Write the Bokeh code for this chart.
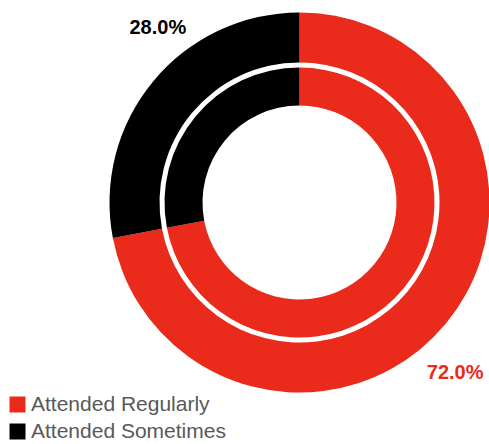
import numpy as np
from bokeh.plotting import figure
from bokeh.models import ColumnDataSource, Legend, LegendItem
from bokeh.core.properties import value
from bokeh.embed import file_html
from bokeh.resources import INLINE

categories = ["Attended Regularly", "Attended Sometimes"]
outer_values = [72.0, 28.0]
inner_values = [72.0, 28.0]
colors = ["#EA2A1A", "#000000"]
label_colors = ["#EA2A1A", "#000000"]

W, H = 489, 444
cx, cy = 299, H - 202

def wedges(vals):
    v = np.array(vals, dtype=float)
    frac = v / v.sum()
    ends = np.cumsum(frac)
    starts = ends - frac
    # clockwise from 12 o'clock
    start_angle = np.pi / 2 - ends * 2 * np.pi
    end_angle = np.pi / 2 - starts * 2 * np.pi
    mid = np.pi / 2 - (starts + ends) / 2 * 2 * np.pi
    return start_angle, end_angle, mid, frac

p = figure(width=W, height=H, x_range=(0, W), y_range=(0, H),
           output_backend="svg", toolbar_location=None, min_border=0)
p.axis.visible = False
p.grid.visible = False
p.outline_line_color = None
p.background_fill_color = "white"

so, eo, mo, fo = wedges(outer_values)
si, ei, mi, fi = wedges(inner_values)

src_o = ColumnDataSource(dict(x=[cx]*2, y=[cy]*2, s=so, e=eo, c=colors))
src_i = ColumnDataSource(dict(x=[cx]*2, y=[cy]*2, s=si, e=ei, c=colors))

r_o = p.annular_wedge(x="x", y="y", inner_radius=140, outer_radius=190,
                      start_angle="s", end_angle="e", fill_color="c",
                      line_color=None, source=src_o)
r_i = p.annular_wedge(x="x", y="y", inner_radius=97, outer_radius=135,
                      start_angle="s", end_angle="e", fill_color="c",
                      line_color=None, source=src_i)

# percentage labels placed around the outer ring at the slice mid-angles
lab_r = 215
lx = cx + lab_r * np.cos(mo)
ly = cy + lab_r * np.sin(mo)
labels = ["%.1f%%" % (f * 100) for f in fo]
xoff = [-10, 24]
yoff = [32, -38]
p.text(x=lx, y=ly, text=labels, text_color=label_colors,
       x_offset=xoff, y_offset=yoff,
       text_font=value("Liberation Sans"), text_font_style="bold",
       text_font_size="20px", text_align="center", text_baseline="middle")

items = [LegendItem(label=categories[i], renderers=[r_o], index=i) for i in range(2)]
legend = Legend(items=items, location=(7, 1), orientation="vertical",
                glyph_width=20, glyph_height=20, label_height=20,
                label_standoff=4, spacing=3, padding=0, margin=0,
                border_line_color=None, background_fill_alpha=0,
                label_text_font="Liberation Sans", label_text_font_size="21px",
                label_text_color="#595959")
p.add_layout(legend)

open("out.html", "w").write(file_html(p, INLINE))
